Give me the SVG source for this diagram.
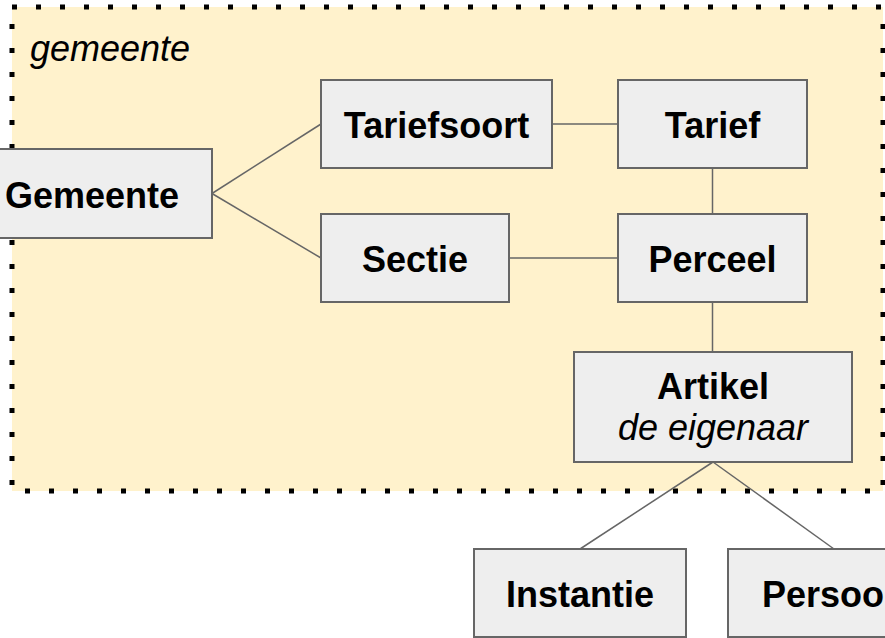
<svg xmlns="http://www.w3.org/2000/svg" width="885" height="638" viewBox="0 0 885 638">
  <style>
    .node rect { fill: #eeeeee; stroke: #666666; stroke-width: 2; }
    .node text { font-family: "Liberation Sans", Arial, sans-serif; font-size: 36px; font-weight: bold; fill: #000000; text-anchor: middle; }
    .node text.sub { font-weight: normal; font-style: italic; }
    .conn line { stroke: #666666; stroke-width: 1.5; fill: none; }
    .label { font-family: "Liberation Sans", Arial, sans-serif; font-size: 36px; font-style: italic; fill: #000000; }
  </style>
  <rect width="885" height="638" fill="#ffffff"/>
  <g id="container">
    <rect x="12" y="7" width="871" height="484" fill="#fff2cc" stroke="#000000" stroke-width="5" stroke-dasharray="5 19"/>
    <text class="label" x="30" y="61">gemeente</text>
  </g>
  <g id="connectors" class="conn">
    <line x1="212" y1="193.5" x2="321" y2="124"/>
    <line x1="212" y1="193.5" x2="321" y2="258"/>
    <line x1="552" y1="124" x2="618" y2="124"/>
    <line x1="712.5" y1="168" x2="712.5" y2="214"/>
    <line x1="509" y1="258" x2="618" y2="258"/>
    <line x1="712.5" y1="302" x2="712.5" y2="352"/>
    <line x1="713" y1="462" x2="580" y2="549"/>
    <line x1="713" y1="462" x2="834" y2="549"/>
  </g>
  <g id="gemeente" class="node">
    <rect x="-28" y="149" width="240" height="89"/>
    <text x="92" y="207.5">Gemeente</text>
  </g>
  <g id="tariefsoort" class="node">
    <rect x="321" y="80" width="231" height="88"/>
    <text x="436.5" y="138">Tariefsoort</text>
  </g>
  <g id="tarief" class="node">
    <rect x="618" y="80" width="189" height="88"/>
    <text x="712.5" y="138">Tarief</text>
  </g>
  <g id="sectie" class="node">
    <rect x="321" y="214" width="188" height="88"/>
    <text x="415" y="272">Sectie</text>
  </g>
  <g id="perceel" class="node">
    <rect x="618" y="214" width="189" height="88"/>
    <text x="712.5" y="272">Perceel</text>
  </g>
  <g id="artikel" class="node">
    <rect x="574" y="352" width="278" height="110"/>
    <text x="713" y="399">Artikel</text>
    <text class="sub" x="713" y="440">de eigenaar</text>
  </g>
  <g id="instantie" class="node">
    <rect x="474" y="549" width="212" height="88"/>
    <text x="580" y="607">Instantie</text>
  </g>
  <g id="persoon" class="node">
    <rect x="728" y="549" width="212" height="88"/>
    <text x="834" y="607">Persoon</text>
  </g>
</svg>
